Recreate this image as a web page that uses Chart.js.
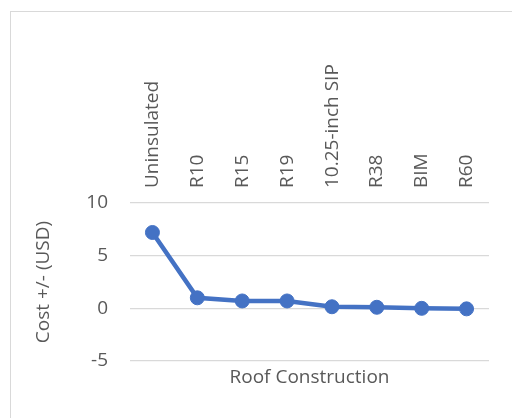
<!DOCTYPE html>
<html>
<head>
<meta charset="utf-8">
<script src="https://cdn.jsdelivr.net/npm/chart.js@4"></script>
<style>
  body { margin: 0; background: #fff; }
  #frame { position: absolute; left: 10px; top: 11px; width: 600px; height: 500px; border: 1px solid #d9d9d9; }
  #chart { position: absolute; left: 0; top: 0; }
</style>
</head>
<body>
<div id="frame"></div>
<canvas id="chart" width="512" height="418"></canvas>
<script>
const categories = ['Uninsulated', 'R10', 'R15', 'R19', '10.25-inch SIP', 'R38', 'BIM', 'R60'];
const costs = [7.2, 1.0, 0.7, 0.7, 0.15, 0.1, 0.0, -0.05];
const yTicks = [-5, 0, 5, 10];

const textColor = '#595959';
const fontFamily = "'Open Sans', sans-serif";
const fontSize = 19;

new Chart(
    document.getElementById('chart'),
    {
        type: 'line',
        data: {
            labels: categories,
            datasets: [
                {
                    label: 'Cost',
                    data: costs,
                    borderColor: '#4472C4',
                    backgroundColor: '#4472C4',
                    borderWidth: 4.5,
                    pointRadius: 7,
                    pointBorderWidth: 1,
                    tension: 0
                }
            ]
        },
        options: {
            responsive: false,
            animation: false,
            layout: { padding: { left: 0, right: 23, top: 0, bottom: 29 } },
            plugins: {
                legend: { display: false },
                tooltip: { enabled: false }
            },
            scales: {
                x: {
                    position: 'top',
                    offset: true,
                    grid: { display: false, drawTicks: false },
                    border: { display: false },
                    ticks: {
                        color: textColor,
                        font: { family: fontFamily, size: fontSize },
                        minRotation: 90,
                        maxRotation: 90,
                        autoSkip: false,
                        padding: 15,
                        labelOffset: 23
                    },
                    afterFit: scale => { scale.height = 203; }
                },
                x2: {
                    type: 'category',
                    labels: categories,
                    position: 'bottom',
                    offset: true,
                    grid: { display: false, drawTicks: false },
                    border: { display: false },
                    ticks: { display: false },
                    title: {
                        display: true,
                        text: 'Roof Construction',
                        color: textColor,
                        font: { family: fontFamily, size: fontSize },
                        padding: { top: 0, bottom: 0 }
                    },
                    afterFit: scale => { scale.height = 28; }
                },
                y: {
                    min: -5,
                    max: 10,
                    afterBuildTicks: scale => { scale.ticks = yTicks.map(v => ({ value: v })); },
                    grid: { color: '#d9d9d9', lineWidth: 1.3, drawTicks: false },
                    border: { display: false },
                    ticks: {
                        color: textColor,
                        font: { family: fontFamily, size: fontSize },
                        padding: 22
                    },
                    title: {
                        display: true,
                        text: 'Cost +/- (USD)',
                        color: textColor,
                        font: { family: fontFamily, size: fontSize },
                        padding: { top: 32, bottom: 0 }
                    },
                    afterFit: scale => { scale.width = 130; }
                }
            }
        }
    }
);
</script>
</body>
</html>
